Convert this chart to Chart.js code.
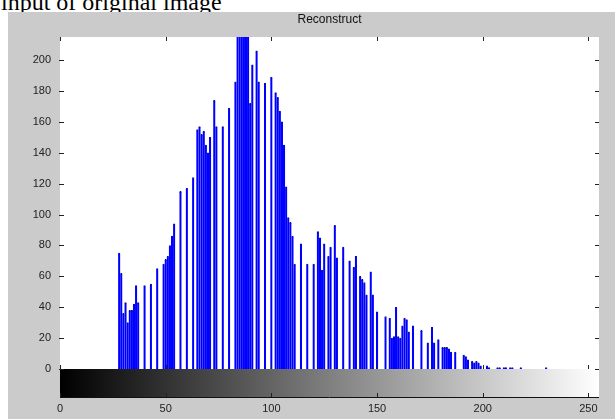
<!DOCTYPE html>
<html>
<head>
<meta charset="utf-8">
<script src="https://cdn.jsdelivr.net/npm/chart.js@4.4.0/dist/chart.umd.min.js"></script>
<style>
  html, body { margin: 0; padding: 0; background: #fff; width: 615px; height: 419px; overflow: hidden; }
  #caption { position: absolute; left: 1px; top: -10px; font: 24px "Liberation Serif", serif; line-height: 24px; color: #000; white-space: nowrap; }
  #fig { position: absolute; left: 8px; top: 12px; width: 607px; height: 407px; background: #cbcbcb; }
  canvas { display: block; }
</style>
</head>
<body>
<div id="caption">input of original image</div>
<div id="fig"><canvas id="hist" width="607" height="407"></canvas></div>
<script>
// gray levels 0..255
const levels = Array.from({ length: 256 }, (_, i) => i);

// pixel counts per gray level
const counts = [
  0, 0, 0, 0, 0, 0, 0, 0, 0, 0, 0, 0, 0, 0, 0, 0,
  0, 0, 0, 0, 0, 0, 0, 0, 0, 0, 0, 0, 75, 62, 36, 43,
  30, 38, 38, 42, 54, 43, 0, 0, 54, 0, 0, 55, 0, 0, 65, 0,
  0, 68, 71, 73, 80, 86, 94, 0, 0, 115, 0, 0, 117, 0, 0, 124,
  0, 155, 157, 152, 154, 145, 140, 150, 0, 174, 157, 0, 0, 157, 0, 0,
  169, 0, 0, 186, 225, 240, 240, 235, 230, 220, 172, 197, 0, 206, 186, 0,
  0, 185, 0, 0, 189, 0, 179, 176, 167, 160, 145, 118, 98, 95, 86, 68,
  0, 0, 81, 0, 0, 68, 0, 0, 68, 0, 89, 85, 64, 81, 0, 73,
  79, 0, 93, 72, 0, 0, 79, 0, 0, 70, 0, 66, 73, 0, 60, 58,
  56, 48, 0, 63, 48, 0, 37, 0, 0, 0, 34, 0, 33, 20, 21, 40,
  21, 20, 28, 33, 32, 24, 0, 28, 0, 0, 0, 25, 0, 0, 17, 0,
  27, 17, 0, 19, 0, 14, 14, 14, 13, 11, 0, 11, 0, 0, 0, 9,
  8, 6, 0, 5, 4, 5, 4, 2, 0, 0, 2, 1, 0, 0, 0, 1,
  1, 0, 1, 1, 0, 1, 1, 0, 0, 0, 1, 0, 0, 0, 0, 0,
  0, 0, 0, 0, 0, 0, 1, 0, 0, 0, 0, 0, 0, 0, 0, 0,
  0, 0, 0, 0, 0, 0, 0, 0, 0, 0, 0, 0, 0, 0, 0, 0
];

const xTicks = [0, 50, 100, 150, 200, 250];
const yTicks = [0, 20, 40, 60, 80, 100, 120, 140, 160, 180, 200];
const titleText = 'Reconstruct';

const tickFont = { family: '"Liberation Sans", Arial, sans-serif', size: 11 };

// white axes, gray colorbar, inward tick marks and title
const frame = {
  id: 'frame',
  beforeDraw(chart) {
    const { ctx, chartArea: a } = chart;
    ctx.save();
    ctx.fillStyle = '#ffffff';
    ctx.fillRect(a.left, a.top, a.right - a.left, a.bottom - a.top);
    ctx.restore();
  },
  afterDraw(chart) {
    const { ctx, chartArea: a, scales } = chart;
    const xs = scales.x, ys = scales.y;
    const x0 = xs.getPixelForValue(0), x1 = xs.getPixelForValue(255);
    const cbTop = a.bottom, cbBot = a.bottom + 28;
    ctx.save();
    const g = ctx.createLinearGradient(x0, 0, x1, 0);
    g.addColorStop(0, '#000000');
    g.addColorStop(1, '#ffffff');
    ctx.fillStyle = g;
    ctx.fillRect(x0, cbTop, x1 - x0, cbBot - cbTop);
    ctx.strokeStyle = '#111';
    ctx.lineWidth = 1;
    ctx.beginPath();
    ctx.moveTo(x0, cbBot + 0.5);
    ctx.lineTo(x1, cbBot + 0.5);
    ctx.stroke();

    ctx.strokeStyle = '#222';
    ctx.beginPath();
    yTicks.forEach(v => {
      const y = Math.round(ys.getPixelForValue(v)) + 0.5;
      ctx.moveTo(a.left - 1, y); ctx.lineTo(a.left + 4, y);
      ctx.moveTo(a.right - 4, y); ctx.lineTo(a.right, y);
    });
    xTicks.forEach(v => {
      const x = Math.round(xs.getPixelForValue(v)) + 0.5;
      ctx.moveTo(x, a.top); ctx.lineTo(x, a.top + 4);
      ctx.moveTo(x, a.bottom); ctx.lineTo(x, a.bottom - 4);
      ctx.moveTo(x, cbBot); ctx.lineTo(x, cbBot - 4);
    });
    ctx.stroke();

    ctx.fillStyle = '#111';
    ctx.font = '12px "Liberation Sans", Arial, sans-serif';
    ctx.textAlign = 'center';
    ctx.textBaseline = 'middle';
    ctx.fillText(titleText, (a.left + a.right) / 2, a.top - 17);
    ctx.restore();
  }
};

new Chart(document.getElementById('hist'), {
  type: 'bar',
  data: {
    datasets: [{
      data: levels.map((lv, i) => ({ x: lv, y: counts[i] })),
      backgroundColor: '#0000ff',
      borderColor: '#14147a',
      borderWidth: c => counts[c.dataIndex] > 0 ? { top: 1, left: 0, right: 0, bottom: 0 } : 0,
      inflateAmount: c => counts[c.dataIndex] > 0 ? 0.33 : 0,
      borderSkipped: 'start',
      barPercentage: 1,
      categoryPercentage: 1
    }]
  },
  options: {
    responsive: false,
    animation: false,
    devicePixelRatio: 1,
    layout: { padding: { top: 25, right: 16, left: 0, bottom: 0 } },
    plugins: { legend: { display: false }, tooltip: { enabled: false } },
    scales: {
      x: {
        type: 'linear', min: 0, max: 255, offset: false,
        grid: { display: false, drawTicks: false, offset: false },
        border: { display: false },
        ticks: { stepSize: 50, padding: 33, font: tickFont, color: '#222', maxRotation: 0 },
        afterBuildTicks: s => { s.ticks = xTicks.map(v => ({ value: v })); },
        afterFit: s => { s.height = 50; s.paddingLeft = 0; s.paddingRight = 0; }
      },
      y: {
        min: 0, max: 215,
        grid: { display: false, drawTicks: false },
        border: { display: false },
        ticks: { stepSize: 20, padding: 9, font: tickFont, color: '#222' },
        afterBuildTicks: s => { s.ticks = yTicks.map(v => ({ value: v })); },
        afterFit: s => { s.width = 52; }
      }
    }
  },
  plugins: [frame]
});
</script>
</body>
</html>
